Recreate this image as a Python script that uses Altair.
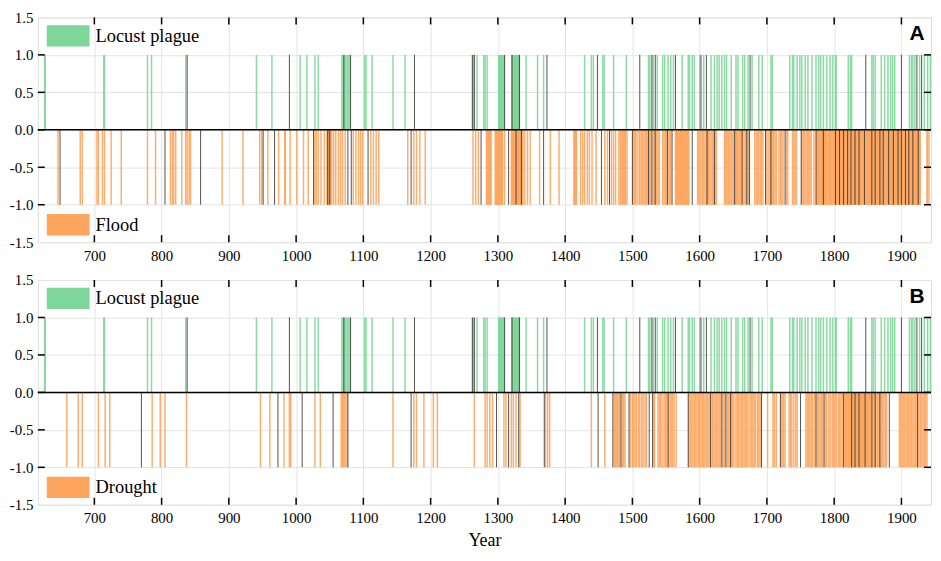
import altair as alt
import pandas as pd

# ---------------- data ----------------
X_DOMAIN = [616, 1944]
YEAR_TICKS = [700, 800, 900, 1000, 1100, 1200, 1300, 1400, 1500, 1600, 1700, 1800, 1900]
Y_TICKS = [-1.5, -1.0, -0.5, 0.0, 0.5, 1.0, 1.5]
INNER_Y_TICKS = [-1.0, -0.5, 0.0, 0.5, 1.0]

locust_years = [626, 627, 714, 715, 779, 785, 836, 941, 964, 1006, 1016, 1028, 1033, 1068, 1070, 1072,
                1074, 1076, 1078, 1080, 1102, 1104, 1113, 1144, 1162, 1263, 1264, 1269, 1279, 1281, 1284,
                1301, 1302, 1303, 1304, 1305, 1306, 1307, 1308, 1309, 1321, 1322, 1323, 1324, 1325, 1326,
                1327, 1328, 1329, 1330, 1331, 1332, 1342, 1359, 1368, 1429, 1439, 1442, 1456, 1458, 1472,
                1491, 1524, 1526, 1531, 1537, 1545, 1548, 1553, 1557, 1561, 1574, 1583, 1585, 1589, 1592,
                1600, 1606, 1617, 1622, 1626, 1629, 1633, 1637, 1640, 1647, 1654, 1657, 1664, 1667, 1672,
                1678, 1688, 1693, 1706, 1708, 1734, 1738, 1740, 1745, 1749, 1752, 1757, 1761, 1767, 1773,
                1777, 1780, 1784, 1789, 1794, 1798, 1802, 1803, 1821, 1824, 1826, 1856, 1858, 1861, 1870,
                1875, 1880, 1884, 1887, 1890, 1912, 1915, 1917, 1920, 1927, 1934, 1939, 1943]
locust_dark = [838, 990, 1071, 1081, 1176, 1262, 1265, 1310, 1321, 1332, 1373, 1448, 1511, 1529, 1534,
               1564, 1602, 1610, 1675, 1847, 1900, 1923, 1930]

flood_years = [646, 679, 682, 704, 706, 712, 715, 725, 740, 779, 791, 813, 816, 818, 821, 830, 836, 838,
               841, 843, 890, 921, 946, 949, 958, 974, 983, 984, 991, 1001, 1011, 1018, 1028, 1030, 1033,
               1037, 1042, 1046, 1047, 1048, 1049, 1050, 1051, 1053, 1056, 1059, 1063, 1066, 1069, 1073,
               1085, 1089, 1093, 1096, 1099, 1111, 1115, 1119, 1123, 1166, 1175, 1179, 1184, 1192, 1263,
               1267, 1271, 1283, 1284, 1285, 1286, 1287, 1288, 1289, 1290, 1296, 1297, 1298, 1299, 1300,
               1301, 1302, 1303, 1304, 1305, 1306, 1307, 1310, 1320, 1321, 1322, 1323, 1324, 1325, 1326,
               1328, 1329, 1330, 1331, 1332, 1333, 1334, 1336, 1337, 1340, 1344, 1348, 1362, 1378, 1391,
               1413, 1414, 1415, 1416, 1417, 1423, 1426, 1429, 1433, 1436, 1440, 1446, 1459, 1463, 1469,
               1472, 1475, 1480, 1482, 1483, 1485, 1487, 1488, 1490, 1492, 1501, 1503, 1505, 1507, 1510,
               1511, 1513, 1515, 1517, 1519, 1521, 1522, 1525, 1527, 1531, 1533, 1536, 1538, 1540, 1545,
               1547, 1549, 1550, 1553, 1555, 1557, 1564, 1565, 1566, 1567, 1568, 1569, 1570, 1571, 1572,
               1573, 1574, 1575, 1576, 1577, 1578, 1579, 1580, 1581, 1582, 1583, 1584, 1597, 1599, 1600,
               1602, 1604, 1606, 1608, 1610, 1612, 1613, 1615, 1617, 1619, 1621, 1623, 1625, 1637, 1638,
               1640, 1642, 1643, 1645, 1647, 1648, 1650, 1653, 1655, 1656, 1658, 1660, 1661, 1664, 1666,
               1668, 1671, 1673, 1682, 1684, 1686, 1688, 1690, 1692, 1694, 1700, 1703, 1705, 1707, 1709,
               1710, 1712, 1714, 1718, 1720, 1722, 1724, 1729, 1731, 1738, 1740, 1742, 1744, 1752, 1754,
               1756, 1758, 1760, 1762, 1764, 1766, 1770, 1774, 1775, 1776, 1777, 1778, 1780, 1781, 1782,
               1783, 1784, 1785, 1786, 1787, 1788, 1789, 1791, 1792, 1793, 1794, 1795, 1796, 1798, 1799,
               1800, 1801, 1802, 1803, 1804, 1805, 1806, 1807, 1808, 1809, 1810, 1811, 1812, 1813, 1814,
               1815, 1816, 1817, 1818, 1819, 1820, 1821, 1822, 1823, 1824, 1825, 1826, 1827, 1828, 1829,
               1830, 1831, 1832, 1833, 1834, 1835, 1836, 1837, 1838, 1839, 1840, 1841, 1842, 1844, 1845,
               1846, 1847, 1848, 1849, 1850, 1851, 1852, 1853, 1854, 1855, 1856, 1857, 1858, 1859, 1860,
               1861, 1862, 1863, 1864, 1865, 1866, 1867, 1868, 1869, 1870, 1871, 1872, 1873, 1874, 1875,
               1876, 1878, 1879, 1880, 1881, 1882, 1883, 1884, 1885, 1886, 1887, 1888, 1889, 1890, 1891,
               1892, 1893, 1894, 1895, 1896, 1897, 1898, 1899, 1900, 1901, 1902, 1903, 1905, 1906, 1907,
               1908, 1909, 1910, 1911, 1912, 1913, 1914, 1915, 1916, 1917, 1918, 1919, 1920, 1921, 1922,
               1923, 1924, 1925, 1926, 1927, 1928, 1938, 1939, 1941]
flood_dark = [649, 805, 858, 951, 968, 1026, 1047, 1050, 1077, 1082, 1107, 1171, 1275, 1316, 1327, 1335,
              1368, 1454, 1466, 1500, 1524, 1529, 1534, 1552, 1559, 1589, 1611, 1622, 1652, 1663, 1670,
              1674, 1698, 1706, 1727, 1751, 1773, 1784, 1802, 1808, 1814, 1820, 1825, 1831, 1837, 1845,
              1856, 1861, 1868, 1873, 1881, 1888, 1895, 1900, 1906, 1911, 1917, 1925]

drought_years = [659, 676, 682, 706, 716, 723, 786, 798, 805, 837, 947, 961, 982, 990, 992, 1028, 1036,
                 1067, 1069, 1070, 1072, 1074, 1076, 1144, 1175, 1179, 1190, 1204, 1210, 1265, 1281, 1284,
                 1288, 1292, 1309, 1312, 1320, 1323, 1327, 1333, 1371, 1374, 1377, 1439, 1459, 1473, 1475,
                 1476, 1478, 1480, 1481, 1485, 1487, 1489, 1497, 1500, 1502, 1504, 1506, 1509, 1511, 1514,
                 1516, 1519, 1521, 1532, 1533, 1538, 1540, 1542, 1544, 1547, 1549, 1551, 1554, 1556, 1558,
                 1560, 1562, 1565, 1584, 1586, 1588, 1590, 1592, 1594, 1596, 1598, 1600, 1602, 1604, 1606,
                 1608, 1610, 1612, 1614, 1617, 1619, 1621, 1623, 1625, 1627, 1629, 1631, 1635, 1637, 1641,
                 1643, 1645, 1647, 1649, 1651, 1654, 1656, 1658, 1660, 1662, 1664, 1666, 1668, 1670, 1672,
                 1675, 1677, 1679, 1681, 1683, 1686, 1688, 1690, 1701, 1709, 1711, 1714, 1721, 1723, 1725,
                 1727, 1733, 1735, 1737, 1740, 1743, 1745, 1758, 1760, 1762, 1764, 1766, 1768, 1771, 1775,
                 1777, 1779, 1781, 1783, 1787, 1789, 1792, 1794, 1797, 1799, 1801, 1803, 1806, 1808, 1810,
                 1812, 1816, 1817, 1818, 1819, 1820, 1821, 1822, 1823, 1824, 1825, 1827, 1828, 1829, 1830,
                 1832, 1833, 1834, 1835, 1836, 1838, 1839, 1840, 1841, 1842, 1843, 1844, 1845, 1847, 1848,
                 1849, 1850, 1851, 1852, 1853, 1854, 1857, 1858, 1860, 1862, 1864, 1866, 1868, 1870, 1872,
                 1874, 1876, 1878, 1897, 1899, 1901, 1903, 1905, 1907, 1909, 1911, 1913, 1915, 1917, 1919,
                 1921, 1923, 1926, 1928, 1930, 1932, 1934, 1936, 1938]
drought_dark = [770, 973, 1009, 1055, 1077, 1171, 1298, 1316, 1331, 1369, 1449, 1471, 1483, 1495, 1525,
                1530, 1553, 1583, 1616, 1633, 1639, 1646, 1692, 1720, 1750, 1773, 1785, 1814, 1826, 1831,
                1837, 1846, 1856, 1861, 1868, 1882, 1924]

# ---------------- style ----------------
GREEN = "#7fd69a"
ORANGE = "#fda55e"
DARK = "#333333"
SERIF = "Liberation Serif"
W, H = 898, 226
HALF = 1.1  # half bar width in years

XS = alt.Scale(domain=X_DOMAIN, nice=False, zero=False)
YS = alt.Scale(domain=[-1.5, 1.5], nice=False, zero=False)
RECT = "M-1,-0.5H1V0.5H-1Z"


def x_axis(title):
    return alt.Axis(values=YEAR_TICKS, format="d", grid=True, ticks=False, domain=False,
                    labelPadding=6, title=title, labelFont=SERIF, labelFontSize=15,
                    labelColor="black", titleFont=SERIF, titleFontSize=18,
                    titleFontWeight="normal", titleColor="black", titlePadding=6,
                    gridColor="#e4e4e4", gridWidth=1)


Y_AXIS = alt.Axis(values=Y_TICKS, grid=True, ticks=False, domain=False, labelPadding=5, title=None,
                  labelExpr="replace(format(datum.value, '.1f'), '\u2212', '-')",
                  labelFont=SERIF, labelFontSize=15, labelColor="black",
                  gridColor="#e4e4e4", gridWidth=1)


def legend(color, ly):
    return alt.Legend(title=None, orient="none", legendX=9, legendY=ly, symbolType=RECT,
                      symbolSize=1849, symbolFillColor=color, symbolStrokeWidth=0,
                      symbolOpacity=1, labelFont=SERIF, labelFontSize=18.5, labelColor="black",
                      labelOffset=6, padding=0)


def bars(years, value, name, color, ly, xt):
    df = pd.DataFrame({"year": years, "value": value, "event": name})
    return (alt.Chart(df).mark_bar(strokeWidth=0, opacity=0.9)
            .transform_calculate(x0=f"datum.year - {HALF}", x1=f"datum.year + {HALF}")
            .encode(x=alt.X("x0:Q", scale=XS, axis=xt), x2="x1:Q",
                    y=alt.Y("value:Q", scale=YS, axis=Y_AXIS), y2=alt.datum(0),
                    color=alt.Color("event:N", scale=alt.Scale(domain=[name], range=[color]),
                                    legend=legend(color, ly))))


def dark(years, value, xt):
    df = pd.DataFrame({"year": years, "value": value})
    return (alt.Chart(df).mark_rule(color=DARK, strokeWidth=1, opacity=0.85)
            .encode(x=alt.X("year:Q", scale=XS, axis=xt),
                    y=alt.Y("value:Q", scale=YS, axis=Y_AXIS), y2=alt.datum(0)))


def panel(letter, neg_years, neg_dark, neg_name, xtitle):
    xt = x_axis(xtitle)
    up = bars(locust_years, 1, "Locust plague", GREEN, -3, xt)
    down = bars(neg_years, -1, neg_name, ORANGE, 187, xt)
    up_d = dark(locust_dark, 1, xt)
    down_d = dark(neg_dark, -1, xt)
    zero = (alt.Chart(pd.DataFrame({"v": [0.0]})).mark_rule(color="black", strokeWidth=1.5)
            .encode(y=alt.Y("v:Q", scale=YS, axis=Y_AXIS)))
    xt_df = pd.DataFrame({"year": YEAR_TICKS})
    top_t = (alt.Chart(xt_df).mark_rule(color="black", strokeWidth=1.5)
             .encode(x=alt.X("year:Q", scale=XS, axis=xt), y=alt.value(0), y2=alt.value(7)))
    bot_t = (alt.Chart(xt_df).mark_rule(color="black", strokeWidth=1.5)
             .encode(x=alt.X("year:Q", scale=XS, axis=xt), y=alt.value(H - 7), y2=alt.value(H)))
    yt_df = pd.DataFrame({"v": INNER_Y_TICKS})
    left_t = (alt.Chart(yt_df).mark_rule(color="black", strokeWidth=1.5)
              .encode(y=alt.Y("v:Q", scale=YS, axis=Y_AXIS), x=alt.value(0), x2=alt.value(7)))
    right_t = (alt.Chart(yt_df).mark_rule(color="black", strokeWidth=1.5)
               .encode(y=alt.Y("v:Q", scale=YS, axis=Y_AXIS), x=alt.value(W - 7), x2=alt.value(W)))
    lab = (alt.Chart(pd.DataFrame({"t": [letter]}))
           .mark_text(font="Liberation Sans", fontWeight="bold", fontSize=21, color="black",
                      align="center", baseline="middle")
           .encode(text="t:N", x=alt.value(W - 14), y=alt.value(17)))
    return (alt.layer(up, down, up_d, down_d, zero, top_t, bot_t, left_t, right_t, lab)
            .resolve_scale(color="independent")
            .properties(width=W, height=H))


chart = (alt.vconcat(panel("A", flood_years, flood_dark, "Flood", None),
                     panel("B", drought_years, drought_dark, "Drought", "Year"),
                     spacing=8)
         .properties(padding={"top": 0, "left": 0, "right": 0, "bottom": 0})
         .configure_view(stroke="black", strokeWidth=1.5)
         .configure_axis(labelFont=SERIF, titleFont=SERIF, labelFontSize=15, labelColor="black")
         .configure(background="white"))

chart.save("out.html", embed_options={"renderer": "svg", "actions": False})
